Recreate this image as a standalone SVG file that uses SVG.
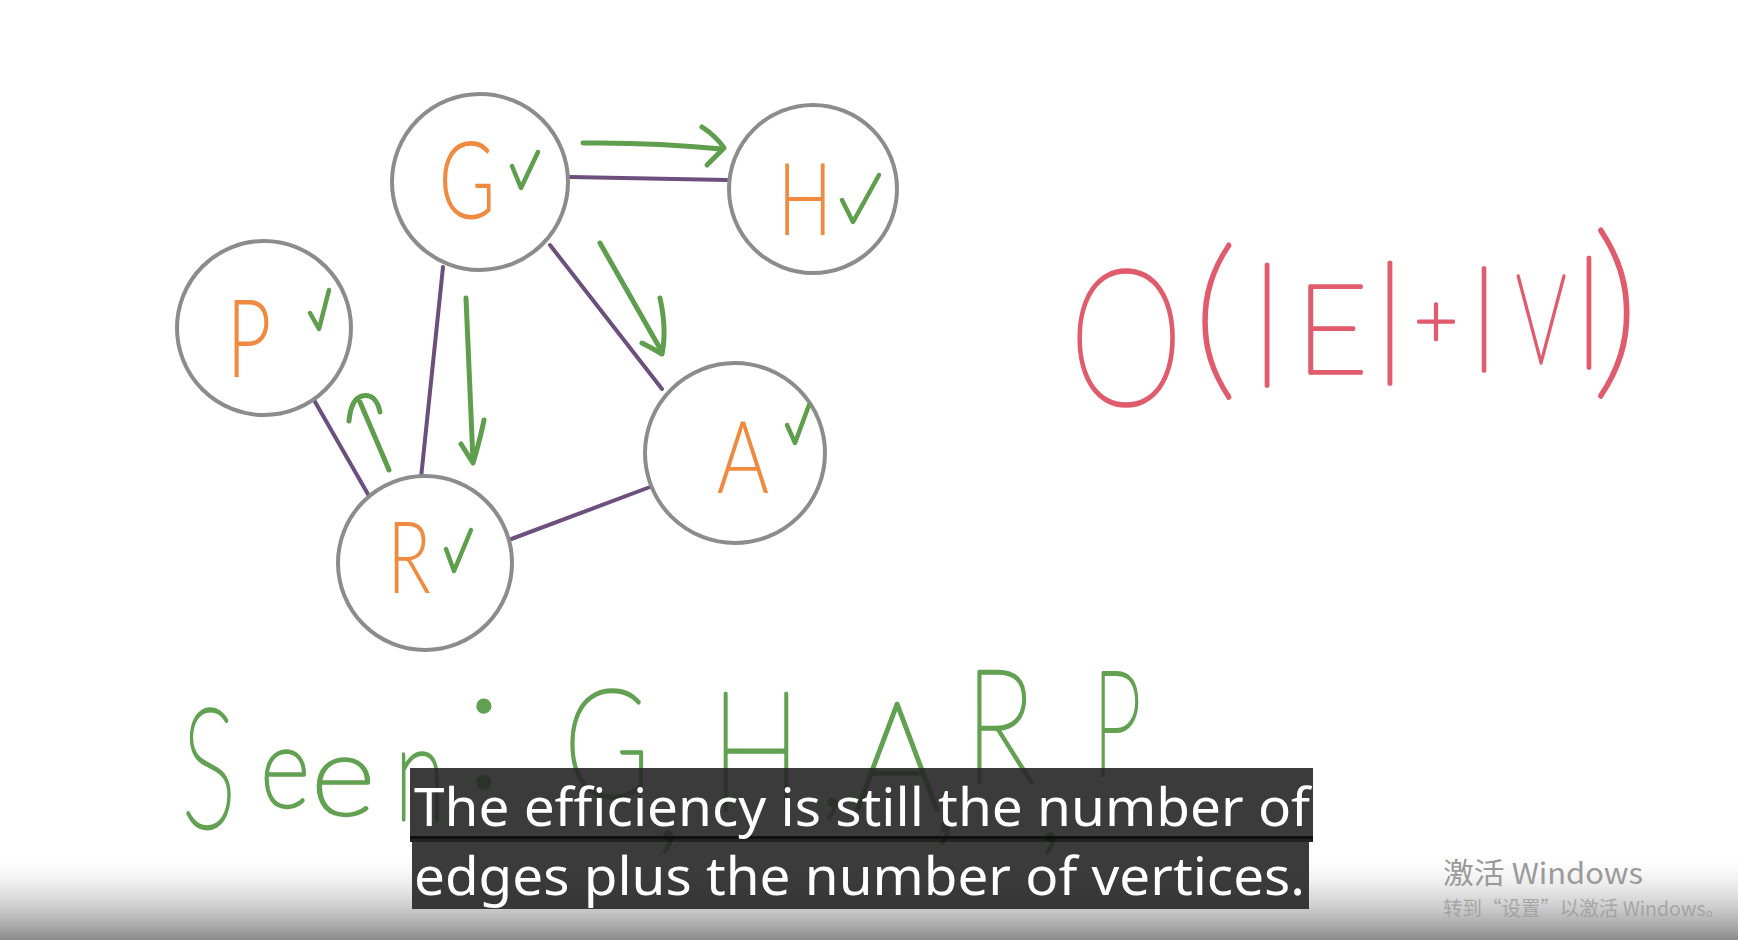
<svg xmlns="http://www.w3.org/2000/svg" width="1738" height="940" viewBox="0 0 1738 940">
<defs>
<style>
.node circle{fill:#ffffff;stroke:#8c8c8c;stroke-width:4}
.lbl{font-family:Lato,"Open Sans",sans-serif;font-weight:300;fill:#ef8a3f;text-anchor:middle}
.chk{fill:none;stroke:#5f9e4c;stroke-width:4.5;stroke-linecap:round;stroke-linejoin:round}
.edge{stroke:#6c4f7c;stroke-width:4;stroke-linecap:round;fill:none}
.arr{stroke:#5f9e4c;stroke-width:5;stroke-linecap:round;stroke-linejoin:round;fill:none}
.red{font-family:Lato,"Open Sans",sans-serif;font-weight:200;fill:#e05c6c;stroke:#e05c6c;stroke-width:3.5;stroke-linejoin:round;text-anchor:middle}
.grn{font-family:Lato,"Open Sans",sans-serif;font-weight:200;fill:#62a052;stroke:#62a052;stroke-width:3.5;stroke-linejoin:round;text-anchor:middle}
.sub{font-family:"Noto Sans","Open Sans",sans-serif;fill:#ffffff;font-size:52px}
.wm{font-family:"Noto Sans CJK SC","Noto Sans",sans-serif;fill:#9a9a9a}
</style>
<linearGradient id="fade" x1="0" y1="0" x2="0" y2="1">
<stop offset="0" stop-color="#ffffff" stop-opacity="0"/>
<stop offset="0.5" stop-color="#c8c8c8" stop-opacity="0.6"/>
<stop offset="1" stop-color="#8a8a8a" stop-opacity="1"/>
</linearGradient>
</defs>
<rect width="1738" height="940" fill="#ffffff"/>

<g id="connectors">
<line class="edge" x1="570" y1="177" x2="727" y2="180"/>
<line class="edge" x1="443" y1="267" x2="421" y2="478"/>
<line class="edge" x1="550" y1="245" x2="662" y2="389"/>
<line class="edge" x1="314" y1="400" x2="369" y2="496"/>
<line class="edge" x1="506" y1="541" x2="650" y2="487"/>
<path class="arr" d="M583,143 Q650,142 722,149"/>
<path class="arr" d="M702,127 Q716,136 724,148 Q715,157 707,165"/>
<path class="arr" d="M600,243 L662,352"/>
<path class="arr" d="M660,298 Q667,330 662,354 Q652,348 642,343"/>
<path class="arr" d="M466,298 L473,461"/>
<path class="arr" d="M461,444 L473,463 Q480,440 484,420"/>
<path class="arr" d="M389,470 L360,402"/>
<path class="arr" d="M349,421 Q351,399 362,396 Q376,393 380,412"/>
</g>

<g id="node-G" class="node">
<circle cx="480" cy="182" r="88"/>
<text class="lbl" font-size="108" transform="translate(467,219) scale(0.72,1)">G</text>
<path class="chk" d="M512,166 L521,188 L538,152"/>
</g>
<g id="node-H" class="node">
<circle cx="813" cy="189" r="84"/>
<text class="lbl" font-size="100" transform="translate(805,235) scale(0.72,1)">H</text>
<path class="chk" d="M842,200 L853,222 L879,175"/>
</g>
<g id="node-P" class="node">
<circle cx="264" cy="328" r="87"/>
<text class="lbl" font-size="108" transform="translate(249,377) scale(0.72,1)">P</text>
<path class="chk" d="M310,313 L319,329 L329,290"/>
</g>
<g id="node-A" class="node">
<circle cx="735" cy="453" r="90"/>
<text class="lbl" font-size="100" transform="translate(743,493) scale(0.8,1)">A</text>
<path class="chk" d="M787,425 L795,443 L809,405"/>
</g>
<g id="node-R" class="node">
<circle cx="425" cy="563" r="87"/>
<text class="lbl" font-size="100" transform="translate(409,593) scale(0.72,1)">R</text>
<path class="chk" d="M446,549 L454,571 L471,530"/>
</g>

<g id="complexity">
<text class="red" font-size="190" transform="translate(1126,405) scale(0.77,1)">O</text>
<text class="red" font-size="177" x="1215" y="377">(</text>
<text class="red" font-size="130" x="1267" y="362">|</text>
<text class="red" font-size="125" x="1332" y="373">E</text>
<text class="red" font-size="131" x="1390" y="360">|</text>
<text class="red" font-size="75" x="1436" y="346">+</text>
<text class="red" font-size="110" x="1484" y="351">|</text>
<text class="red" font-size="125" transform="translate(1541,363) scale(0.63,1)">V</text>
<text class="red" font-size="118" x="1589" y="347">|</text>
<text class="red" font-size="193" x="1616" y="374">)</text>
</g>

<g id="seen">
<text class="grn" font-size="166" transform="translate(209,827) scale(0.62,1)">S</text>
<text class="grn" font-size="113" transform="translate(285,807) scale(0.85,1)">e</text>
<text class="grn" font-size="113" transform="translate(343,815) scale(1.1,1)">e</text>
<text class="grn" font-size="134" transform="translate(420,820) scale(0.7,1)">n</text>
<text class="grn" font-size="180" x="484" y="787">:</text>
<text class="grn" font-size="150" transform="translate(607,797) scale(0.78,1)">G</text>
<text class="grn" font-size="110" x="668" y="838">,</text>
<text class="grn" font-size="167" transform="translate(756,810) scale(0.72,1)">H</text>
<text class="grn" font-size="110" x="832" y="805">,</text>
<text class="grn" font-size="153" transform="translate(897,810) scale(0.9,1)">A</text>
<text class="grn" font-size="110" x="945" y="830">,</text>
<text class="grn" font-size="158" transform="translate(1000,783) scale(0.75,1)">R</text>
<text class="grn" font-size="110" x="1050" y="840">,</text>
<text class="grn" font-size="146" transform="translate(1117,775) scale(0.6,1)">P</text>
</g>

<rect x="0" y="850" width="1738" height="90" fill="url(#fade)"/>

<g id="subtitles">
<rect x="410" y="768" width="903" height="71" fill="#262626" fill-opacity="0.9"/>
<rect x="410" y="836" width="903" height="6" fill="#0c0c0c" fill-opacity="0.9"/>
<rect x="412" y="842" width="897" height="67" fill="#262626" fill-opacity="0.9"/>
<text class="sub" x="414" y="826" textLength="896" lengthAdjust="spacingAndGlyphs">The efficiency is still the number of</text>
<text class="sub" x="414" y="895" textLength="891" lengthAdjust="spacingAndGlyphs">edges plus the number of vertices.</text>
</g>

<g id="watermark">
<text class="wm" font-size="29" x="1443" y="884" textLength="200" lengthAdjust="spacingAndGlyphs">激活 Windows</text>
<text class="wm" font-size="20" x="1443" y="916" fill-opacity="0.8" textLength="282" lengthAdjust="spacingAndGlyphs">转到“设置”以激活 Windows。</text>
</g>
</svg>
